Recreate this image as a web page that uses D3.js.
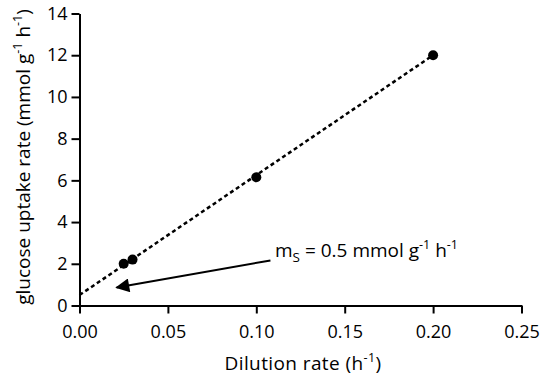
<!DOCTYPE html>
<html>
<head>
<meta charset="utf-8">
<script src="https://cdn.jsdelivr.net/npm/d3@7"></script>
<style>
	body { margin: 0; background: #fff; }
	text { font-family: "Open Sans", sans-serif; fill: #000; }
</style>
</head>
<body>
<div class="chart"></div>
<script>
/*  ======== Data ============= */
var dilutionRate = [0.025, 0.03, 0.1, 0.2];
var uptakeRate = [2.0, 2.2, 6.15, 12.0];
var fitX = [0, 0.2];
var fitY = [0.5, 12.0];
var xTicks = [0, 0.05, 0.10, 0.15, 0.20, 0.25];
var yTicks = [0, 2, 4, 6, 8, 10, 12, 14];
var arrowFrom = [0.108, 2.16];
var arrowTo = [0.021, 0.86];
/*  ======== Data ============= */

var width = 542, height = 380;
var svg = d3.select('.chart')
			.append('svg')
			.attr('width', width)
			.attr('height', height);

var x = d3.scaleLinear().domain([0, 0.25]).range([79.5, 521.5]);
var y = d3.scaleLinear().domain([0, 14]).range([305.5, 13.5]);
var fontSize = 18;
var titleSize = 19;
var supSize = 12.5;

svg.append('defs').append('marker')
	.attr('id', 'head')
	.attr('viewBox', '0 0 10 10')
	.attr('refX', 9)
	.attr('refY', 5)
	.attr('markerWidth', 9)
	.attr('markerHeight', 7)
	.attr('markerUnits', 'strokeWidth')
	.attr('orient', 'auto')
	.append('path')
	.attr('d', 'M0,0 L10,5 L0,10 Z')
	.attr('fill', '#000');

// axes
var xAxis = svg.append('g')
	.attr('transform', 'translate(0,' + y(0) + ')')
	.call(d3.axisBottom(x).tickValues(xTicks).tickFormat(d3.format('.2f')).tickSize(8).tickSizeOuter(0));
var yAxis = svg.append('g')
	.attr('transform', 'translate(' + x(0) + ',0)')
	.call(d3.axisLeft(y).tickValues(yTicks).tickSize(8).tickSizeOuter(0));
[xAxis, yAxis].forEach(function(a){
	a.selectAll('path, line').attr('stroke', '#000').attr('stroke-width', 2);
	a.selectAll('text').attr('font-size', fontSize).attr('font-family', '"Open Sans", sans-serif').attr('fill', '#000');
});
xAxis.selectAll('text').attr('y', 20);
yAxis.selectAll('text').attr('x', -12);

// fitted line
svg.append('line')
	.attr('x1', x(fitX[0])).attr('y1', y(fitY[0]))
	.attr('x2', x(fitX[1])).attr('y2', y(fitY[1]))
	.attr('stroke', '#000')
	.attr('stroke-width', 2.5)
	.attr('stroke-dasharray', '4,3');

// points
svg.selectAll('circle.pt')
	.data(dilutionRate)
	.enter()
	.append('circle')
	.attr('class', 'pt')
	.attr('cx', function(d){ return x(d); })
	.attr('cy', function(d, i){ return y(uptakeRate[i]); })
	.attr('r', 5)
	.attr('fill', '#000');

// arrow
svg.append('line')
	.attr('x1', x(arrowFrom[0])).attr('y1', y(arrowFrom[1]))
	.attr('x2', x(arrowTo[0])).attr('y2', y(arrowTo[1]))
	.attr('stroke', '#000')
	.attr('stroke-width', 2)
	.attr('marker-end', 'url(#head)');

// annotation
var ann = svg.append('text')
	.attr('x', 275)
	.attr('y', 257)
	.attr('font-size', titleSize);
ann.append('tspan').text('m');
ann.append('tspan').attr('font-size', 13.5).attr('dy', 5).text('S');
ann.append('tspan').attr('dy', -5).text(' = 0.5 mmol g');
ann.append('tspan').attr('font-size', supSize).attr('dy', -8).text('-1');
ann.append('tspan').attr('dy', 8).text(' h');
ann.append('tspan').attr('font-size', supSize).attr('dy', -8).text('-1');

// x title
var xt = svg.append('text')
	.attr('x', 303)
	.attr('y', 370)
	.attr('text-anchor', 'middle')
	.attr('font-size', titleSize)
	.attr('letter-spacing', 0.4);
xt.append('tspan').text('Dilution rate (h');
xt.append('tspan').attr('font-size', supSize).attr('dy', -8).text('-1');
xt.append('tspan').attr('dy', 8).text(')');

// y title
var yt = svg.append('text')
	.attr('transform', 'translate(30,' + 157 + ') rotate(-90)')
	.attr('text-anchor', 'middle')
	.attr('font-size', titleSize);
yt.append('tspan').text('glucose uptake rate (mmol g');
yt.append('tspan').attr('font-size', supSize).attr('dy', -8).text('-1');
yt.append('tspan').attr('dy', 8).text(' h');
yt.append('tspan').attr('font-size', supSize).attr('dy', -8).text('-1');
yt.append('tspan').attr('dy', 8).text(')');
</script>
</body>
</html>
